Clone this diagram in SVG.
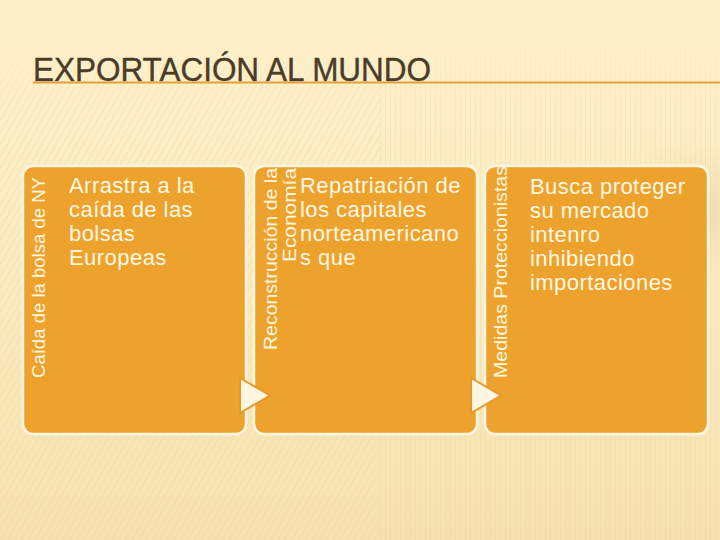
<svg xmlns="http://www.w3.org/2000/svg" width="720" height="540" viewBox="0 0 720 540">
<defs>
<linearGradient id="bg" x1="0" y1="0" x2="0" y2="1">
<stop offset="0" stop-color="#FDF1CB"/>
<stop offset="0.5" stop-color="#FBEBC0"/>
<stop offset="1" stop-color="#F6E1B0"/>
</linearGradient>
<pattern id="diag" width="6" height="6" patternUnits="userSpaceOnUse" patternTransform="rotate(30)">
<line x1="0" y1="0" x2="0" y2="6" stroke="#E9CF95" stroke-width="1.2"/>
</pattern>
<pattern id="vert" width="5" height="6" patternUnits="userSpaceOnUse">
<line x1="0" y1="0" x2="0" y2="6" stroke="#E9CF95" stroke-width="1"/>
</pattern>
<linearGradient id="band" x1="0" y1="0" x2="0" y2="1">
<stop offset="0" stop-color="#fff" stop-opacity="0"/>
<stop offset="0.15" stop-color="#fff" stop-opacity="1"/>
<stop offset="1" stop-color="#fff" stop-opacity="1"/>
</linearGradient>
<mask id="bandMask">
<rect x="0" y="30" width="720" height="510" fill="url(#band)"/>
</mask>
<radialGradient id="blob" cx="0.5" cy="0.5" r="0.5">
<stop offset="0" stop-color="#D9BE85" stop-opacity="0.35"/>
<stop offset="1" stop-color="#D9BE85" stop-opacity="0"/>
</radialGradient>
<style>
.box{fill:#EDA22E;stroke:#FFF6E2;stroke-width:2.5}
.body{font-family:"Liberation Sans",Arial,sans-serif;font-size:22px;letter-spacing:0.45px;fill:#FFF7E0}
.vlab{font-family:"Liberation Sans",Arial,sans-serif;font-size:18px;fill:#FFF7E0}
.arrow{fill:#FFF7E2;stroke:#E8982A;stroke-width:2;stroke-linejoin:miter}
</style>
</defs>
<rect width="720" height="540" fill="url(#bg)"/>
<g mask="url(#bandMask)" opacity="0.55">
<rect x="0" y="30" width="380" height="510" fill="url(#diag)"/>
<rect x="380" y="30" width="340" height="510" fill="url(#vert)"/>
</g>
<ellipse cx="690" cy="210" rx="90" ry="70" fill="url(#blob)"/>

<g id="title">
<text x="33" y="81" font-family="Liberation Sans,Arial,sans-serif" font-size="34" fill="#4B3B28" stroke="#4B3B28" stroke-width="0.4" textLength="398" lengthAdjust="spacingAndGlyphs">EXPORTACIÓN AL MUNDO</text>
<line x1="33" y1="82.5" x2="720" y2="82.5" stroke="#E2A040" stroke-width="2"/>
</g>

<g id="node1">
<rect class="box" x="23" y="166" width="223" height="268" rx="10"/>
<text class="vlab" transform="translate(45,378) rotate(-90)" textLength="201" lengthAdjust="spacingAndGlyphs">Caída de la bolsa de NY</text>
<text class="body" x="69" y="193">Arrastra a la</text>
<text class="body" x="69" y="217">caída de las</text>
<text class="body" x="69" y="241">bolsas</text>
<text class="body" x="69" y="265">Europeas</text>
</g>

<g id="node2">
<rect class="box" x="254" y="166" width="223" height="268" rx="10"/>
<text class="vlab" transform="translate(277,350) rotate(-90)" textLength="182" lengthAdjust="spacingAndGlyphs">Reconstrucción de la</text>
<text class="vlab" transform="translate(296,262) rotate(-90)" textLength="94" lengthAdjust="spacingAndGlyphs">Economía</text>
<text class="body" x="300" y="193">Repatriación de</text>
<text class="body" x="300" y="217">los capitales</text>
<text class="body" x="300" y="241">norteamericano</text>
<text class="body" x="300" y="265">s que</text>
</g>

<g id="node3">
<rect class="box" x="485" y="166" width="223" height="268" rx="10"/>
<text class="vlab" transform="translate(507,378) rotate(-90)" textLength="212" lengthAdjust="spacingAndGlyphs">Medidas Proteccionistas</text>
<text class="body" x="530" y="194">Busca proteger</text>
<text class="body" x="530" y="218">su mercado</text>
<text class="body" x="530" y="242">intenro</text>
<text class="body" x="530" y="266">inhibiendo</text>
<text class="body" x="530" y="290">importaciones</text>
</g>

<g id="connectors">
<polygon class="arrow" points="240,378 270,395.5 240,413"/>
<polygon class="arrow" points="471,378 501,395.5 471,413"/>
</g>
</svg>
